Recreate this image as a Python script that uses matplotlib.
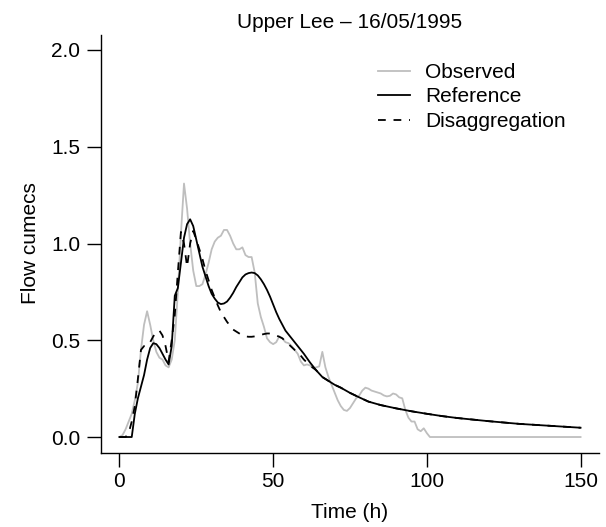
import matplotlib.pyplot as plt

plt.rcParams['font.family'] = ['Liberation Sans', 'DejaVu Sans']

# Hydrograph for the Upper Lee event (flow in cumecs against time in hours)
obs_t = list(range(0, 102)) + [150]
obs_q = [0.00, 0.01, 0.04, 0.08, 0.12, 0.19, 0.28, 0.45, 0.58, 0.65,
         0.58, 0.50, 0.44, 0.41, 0.40, 0.37, 0.36, 0.40, 0.50, 0.75,
         1.05, 1.31, 1.18, 1.00, 0.86, 0.78, 0.78, 0.79, 0.84, 0.90,
         0.97, 1.01, 1.03, 1.04, 1.07, 1.07, 1.04, 1.00, 0.97, 0.97,
         0.98, 0.94, 0.93, 0.93, 0.85, 0.69, 0.62, 0.57, 0.51, 0.49,
         0.48, 0.49, 0.52, 0.51, 0.49, 0.485, 0.47, 0.45, 0.43, 0.39,
         0.37, 0.375, 0.37, 0.355, 0.36, 0.365, 0.44, 0.36, 0.31, 0.27,
         0.23, 0.19, 0.16, 0.14, 0.135, 0.15, 0.175, 0.20, 0.215, 0.24,
         0.255, 0.25, 0.24, 0.235, 0.23, 0.225, 0.215, 0.21, 0.213, 0.225,
         0.22, 0.205, 0.20, 0.14, 0.10, 0.08, 0.08, 0.04, 0.03, 0.045,
         0.02, 0.00, 0.00]

ref_t = list(range(0, 59)) + [60, 62, 64, 66, 68, 70, 72, 75, 78, 81, 85,
                              90, 95, 100, 105, 110, 115, 120, 130, 140, 150]
ref_q = [0.00, 0.00, 0.00, 0.00, 0.00, 0.12, 0.20, 0.26, 0.32, 0.40,
         0.46, 0.485, 0.48, 0.46, 0.43, 0.40, 0.375, 0.47, 0.73, 0.77,
         0.90, 1.03, 1.10, 1.125, 1.09, 1.02, 0.95, 0.88, 0.83, 0.78,
         0.74, 0.715, 0.695, 0.687, 0.69, 0.70, 0.72, 0.745, 0.775, 0.80,
         0.825, 0.84, 0.847, 0.85, 0.847, 0.835, 0.815, 0.79, 0.76, 0.725,
         0.685, 0.645, 0.61, 0.58, 0.55, 0.53, 0.51, 0.49, 0.47,
         0.43, 0.385, 0.345, 0.31, 0.29, 0.27, 0.255, 0.228, 0.205, 0.183,
         0.165, 0.148, 0.133, 0.12, 0.108, 0.098, 0.09, 0.082, 0.068,
         0.058, 0.048]

dis_t = list(range(0, 59)) + [60, 62, 64, 66, 68, 70, 72, 75, 78, 81, 85,
                              90, 95, 100, 105, 110, 115, 120, 130, 140, 150]
dis_q = [0.00, 0.00, 0.00, 0.02, 0.08, 0.16, 0.30, 0.45, 0.47, 0.47,
         0.49, 0.52, 0.545, 0.55, 0.525, 0.47, 0.39, 0.50, 0.63, 0.85,
         1.06, 1.00, 0.88, 1.00, 1.065, 1.02, 0.97, 0.92, 0.86, 0.81,
         0.76, 0.72, 0.68, 0.645, 0.62, 0.595, 0.575, 0.555, 0.545, 0.535,
         0.525, 0.52, 0.518, 0.518, 0.52, 0.525, 0.528, 0.532, 0.535, 0.535,
         0.53, 0.525, 0.518, 0.51, 0.495, 0.48, 0.465, 0.45, 0.44,
         0.40, 0.37, 0.345, 0.31, 0.29, 0.27, 0.255, 0.228, 0.205, 0.183,
         0.165, 0.148, 0.133, 0.12, 0.108, 0.098, 0.09, 0.082, 0.068,
         0.058, 0.048]

x_ticks = [0, 50, 100, 150]
y_ticks = [0.0, 0.5, 1.0, 1.5, 2.0]

fig = plt.figure(figsize=(6.06, 5.27), dpi=100)
ax = fig.add_axes([101 / 606, 1 - 452.5 / 527, 498 / 606, 418 / 527])

ax.plot(obs_t, obs_q, color='#bebebe', lw=1.3, label='Observed')
ax.plot(ref_t, ref_q, color='black', lw=1.3, label='Reference')
ax.plot(dis_t, dis_q, color='black', lw=1.3, linestyle=(0, (4.3, 4.3)),
        label='Disaggregation')

ax.set_xlim(-6, 156)
ax.set_ylim(-0.08, 2.08)
ax.set_xticks(x_ticks)
ax.set_xticklabels([str(v) for v in x_ticks])
ax.set_yticks(y_ticks)
ax.set_yticklabels(['%.1f' % v for v in y_ticks])

for side in ['top', 'right']:
    ax.spines[side].set_visible(False)
for side in ['left', 'bottom']:
    ax.spines[side].set_linewidth(1.0)
ax.tick_params(axis='both', direction='out', length=10, width=1.0,
               labelsize=15)
ax.tick_params(axis='y', pad=5)
ax.tick_params(axis='x', pad=4)

ax.set_xlabel('Time (h)', fontsize=15, labelpad=9)
ax.set_ylabel('Flow cumecs', fontsize=15, labelpad=8)
ax.set_title('Upper Lee \u2013 16/05/1995', fontsize=15, pad=5)

ax.legend(loc='upper left', bbox_to_anchor=(378 / 606, 1 - 63 / 527),
          bbox_transform=fig.transFigure, frameon=False, fontsize=15,
          handlelength=1.55, handletextpad=0.7, labelspacing=0.26,
          borderpad=0, borderaxespad=0)

fig.savefig('out.png', dpi=100)
